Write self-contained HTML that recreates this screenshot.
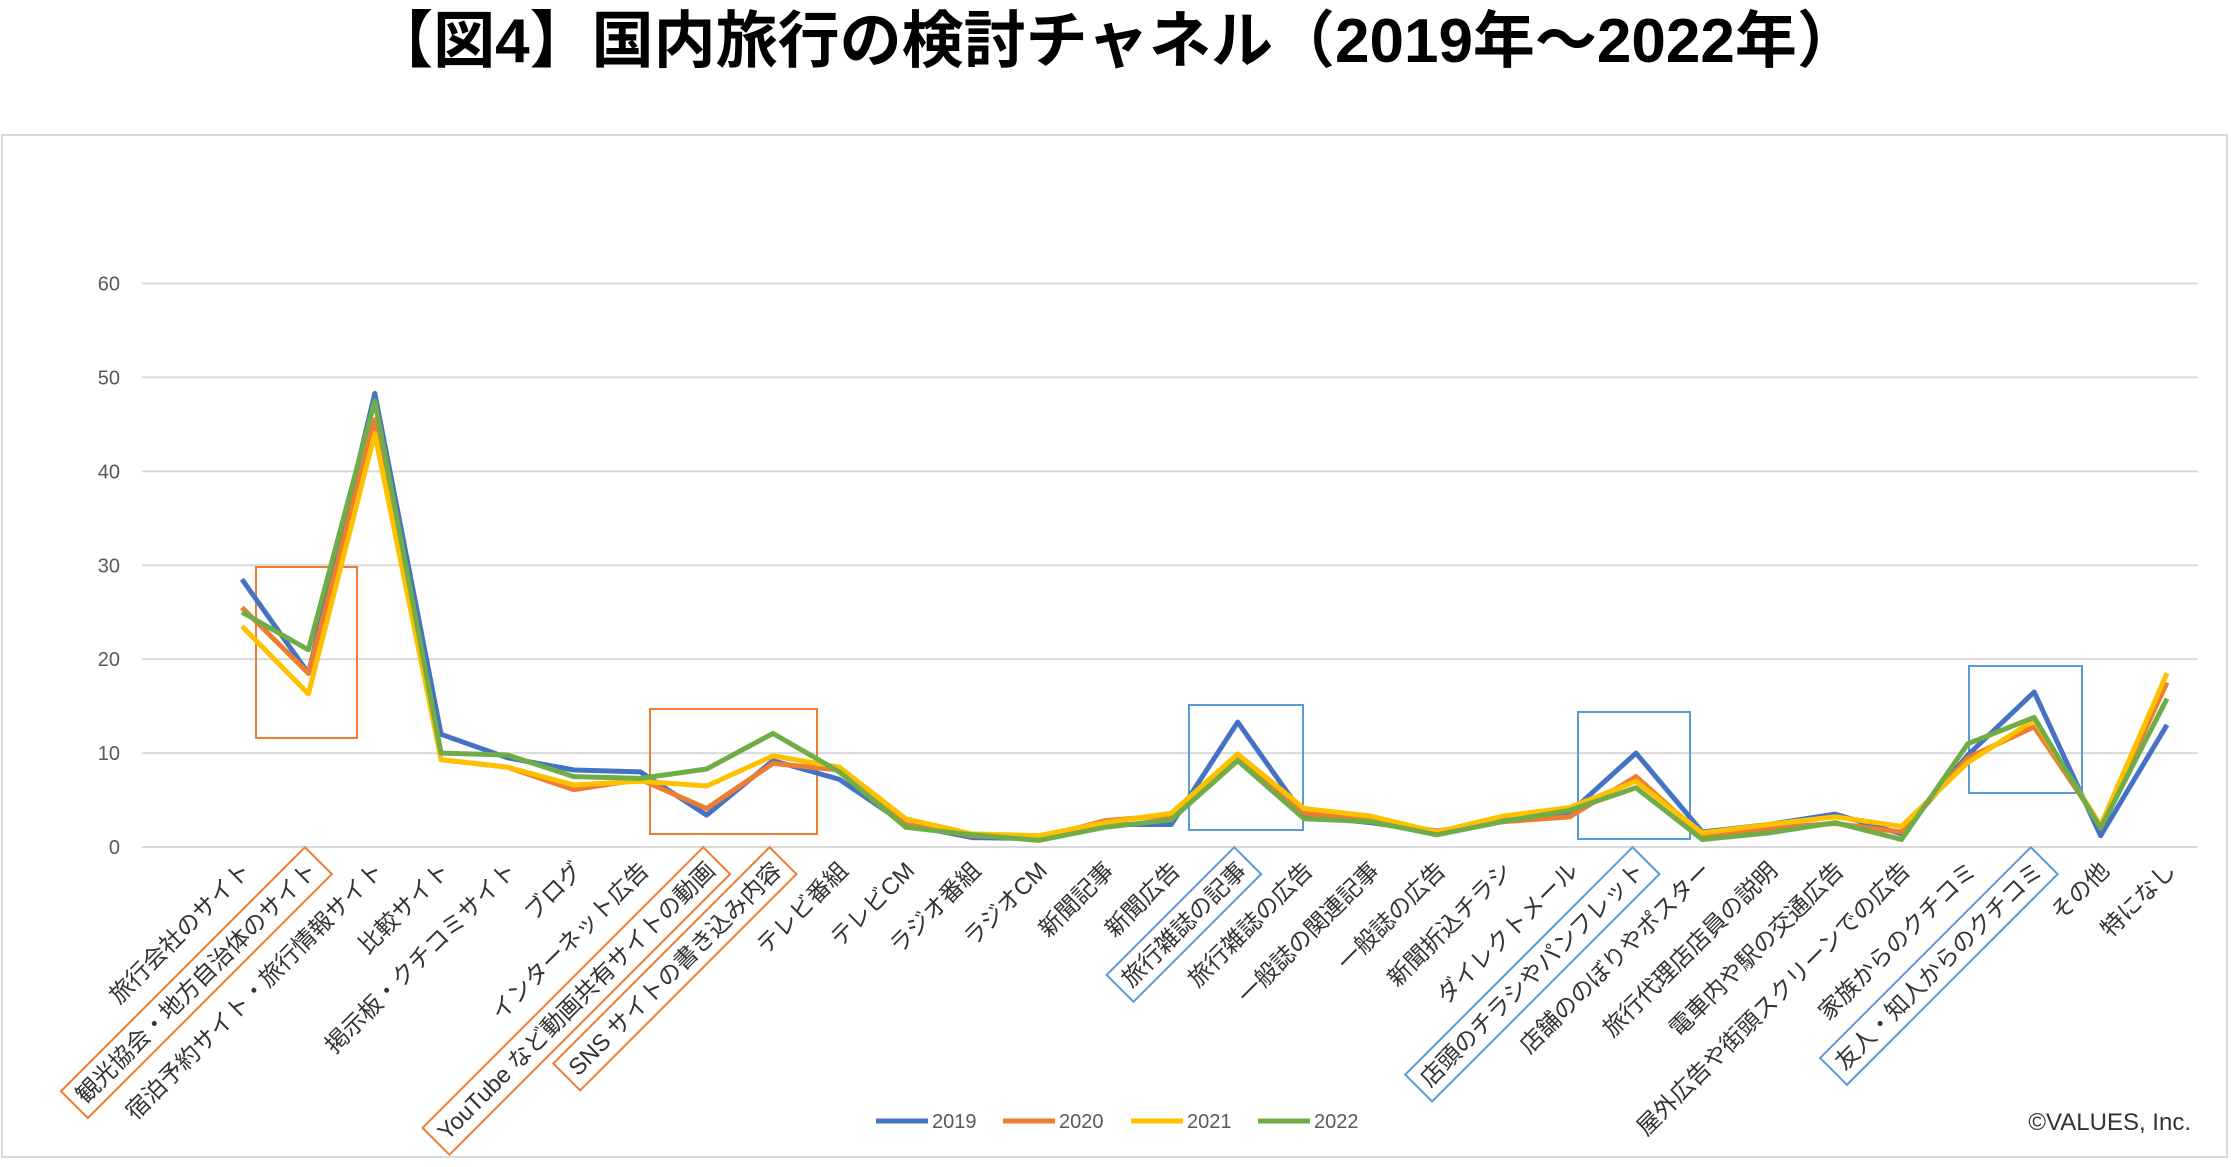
<!DOCTYPE html>
<html><head><meta charset="utf-8">
<style>
html,body{margin:0;padding:0;background:#fff;}
body{width:2231px;height:1162px;overflow:hidden;font-family:"Liberation Sans","Noto Sans CJK JP",sans-serif;}
</style></head>
<body>
<svg id="chart" width="2231" height="1162" xmlns="http://www.w3.org/2000/svg" font-family="Liberation Sans, Noto Sans CJK JP, sans-serif">
<text x="1115" y="62" text-anchor="middle" font-size="62" font-weight="bold" fill="#000">【図4】国内旅行の検討チャネル（2019年～2022年）</text>
<rect x="2" y="135" width="2225" height="1022" fill="none" stroke="#d9d9d9" stroke-width="2"/>
<g id="grid"></g>
<g id="boxes"></g>
<g id="lines"></g>
<g id="xlabels"></g>
<g id="legend"></g>
<text x="2191" y="1130" text-anchor="end" font-size="24" fill="#333">©VALUES, Inc.</text>
</svg>
<script>
const categories=["旅行会社のサイト","観光協会・地方自治体のサイト","宿泊予約サイト・旅行情報サイト","比較サイト","掲示板・クチコミサイト","ブログ","インターネット広告","YouTube など動画共有サイトの動画","SNS サイトの書き込み内容","テレビ番組","テレビCM","ラジオ番組","ラジオCM","新聞記事","新聞広告","旅行雑誌の記事","旅行雑誌の広告","一般誌の関連記事","一般誌の広告","新聞折込チラシ","ダイレクトメール","店頭のチラシやパンフレット","店舗ののぼりやポスター","旅行代理店店員の説明","電車内や駅の交通広告","屋外広告や街頭スクリーンでの広告","家族からのクチコミ","友人・知人からのクチコミ","その他","特になし"];
const s2019=[28.5,18.5,48.3,12,9.5,8.2,8.0,3.4,9.2,7.2,2.4,1.0,0.9,2.4,2.4,13.3,3.3,2.6,1.6,2.8,3.6,10.0,1.6,2.4,3.5,1.4,9.8,16.5,1.2,13];
const s2020=[25.5,18.5,45.5,9.3,8.5,6.1,7.2,4.1,8.9,8.2,2.4,1.2,0.9,2.8,3.4,9.5,3.6,2.8,1.7,2.7,3.2,7.5,1.2,2.0,2.5,1.6,9.5,12.8,2.3,17.5];
const s2021=[23.5,16.3,44,9.3,8.5,6.6,7.0,6.5,9.7,8.5,3.0,1.4,1.2,2.6,3.6,9.9,4.1,3.3,1.6,3.3,4.2,7.0,1.5,2.4,3.2,2.2,9.0,13.5,2.3,18.5];
const s2022=[25,21,47.5,10,9.8,7.5,7.3,8.3,12.1,8.0,2.1,1.3,0.7,2.1,2.9,9.2,3.0,2.7,1.3,2.7,3.9,6.3,0.8,1.5,2.6,0.8,11,13.8,2.0,15.8];
const yTicks=[0,10,20,30,40,50,60];
const seriesNames=["2019","2020","2021","2022"];
const orangeBoxed=[1,7,8];
const blueBoxed=[15,21,27];

const NS="http://www.w3.org/2000/svg";
const X0=242,X1=2167,Y0=847,Y60=283.5;
function xPos(i){return X0+(X1-X0)*i/(categories.length-1);}
function yPos(v){return Y0-(Y0-Y60)*v/60;}
function el(tag,attrs,parent){const e=document.createElementNS(NS,tag);for(const k in attrs)e.setAttribute(k,attrs[k]);parent.appendChild(e);return e;}

const grid=document.getElementById('grid');
yTicks.forEach(t=>{
  const l=el('line',{x1:142,x2:2198,y1:yPos(t),y2:yPos(t),stroke:'#d9d9d9','stroke-width':2},grid);
  
  
  const tx=el('text',{x:120,y:yPos(t)+7,'text-anchor':'end','font-size':20,fill:'#595959'},grid);
  tx.textContent=t;
  
  
});

const boxes=document.getElementById('boxes');
const hb=[[256,567,101,171,'#ED7D31'],[650,709,167,125,'#ED7D31'],[1189,705,114,125,'#5B9BD5'],[1578,712,112,127,'#5B9BD5'],[1969,666,113,127,'#5B9BD5']];
hb.forEach(b=>{
  const r=el('rect',{x:b[0],y:b[1],width:b[2],height:b[3],fill:'none',stroke:b[4],'stroke-width':2},boxes);
  
  
});

const colors=['#4472C4','#ED7D31','#FFC000','#70AD47'];
const lines=document.getElementById('lines');
[s2019,s2020,s2021,s2022].forEach((s,k)=>{
  const d=s.map((v,i)=>(i?'L':'M')+xPos(i).toFixed(1)+','+yPos(v).toFixed(1)).join(' ');
  const p=el('path',{d:d,fill:'none',stroke:colors[k],'stroke-width':5,'stroke-linejoin':'round'},lines);
  
  
});

const xl=document.getElementById('xlabels');
categories.forEach((c,i)=>{
  const g=el('g',{transform:`translate(${xPos(i)+10},872) rotate(-45)`},xl);
  const t=el('text',{x:0,y:0,'text-anchor':'end','font-size':23.5,fill:'#333'},g);
  t.textContent=c;
  
  
  const col=orangeBoxed.includes(i)?'#ED7D31':(blueBoxed.includes(i)?'#5B9BD5':null);
  if(col){
    const bb=t.getBBox();
    const r=el('rect',{x:bb.x-8,y:bb.y-6,width:bb.width+16,height:bb.height+12,fill:'none',stroke:col,'stroke-width':2},g);
    
    
  }
});

const lg=document.getElementById('legend');
const lx=[876,1003,1131,1258];
seriesNames.forEach((n,k)=>{
  const l=el('line',{x1:lx[k],x2:lx[k]+52,y1:1121,y2:1121,stroke:colors[k],'stroke-width':5},lg);
  
  
  const t=el('text',{x:lx[k]+56,y:1128,'font-size':20,fill:'#595959'},lg);
  t.textContent=n;
  
  
});
</script>
</body></html>
